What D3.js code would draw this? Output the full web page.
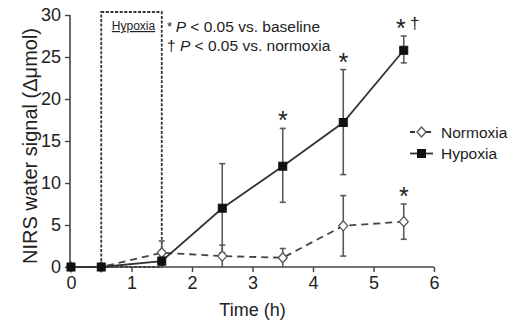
<!DOCTYPE html>
<html>
<head>
<meta charset="utf-8">
<script src="https://cdn.jsdelivr.net/npm/d3@7"></script>
<style>
  html, body { margin: 0; padding: 0; background: #fff; }
  svg { display: block; }
  text { font-family: "Liberation Sans", Arial, Helvetica, sans-serif; fill: #222; }
</style>
</head>
<body>
<svg id="chart" width="509" height="328"></svg>
<script>
// ---- data ----
const timePoints = [0, 0.5, 1.5, 2.5, 3.5, 4.5, 5.5];
const hypoxiaMean  = [0, 0, 0.7, 7.0, 12.0, 17.2, 25.8];
const hypoxiaUpper = [0, 0, 1.2, 12.3, 16.5, 23.5, 27.5];
const hypoxiaLower = [0, 0, 0.2, 1.7, 7.7, 11.0, 24.3];
const normoxiaMean  = [0, 0, 1.7, 1.3, 1.1, 4.9, 5.4];
const normoxiaUpper = [0, 0, 3.1, 2.6, 2.2, 8.5, 7.5];
const normoxiaLower = [0, 0, 0.4, 0, 0, 1.3, 3.3];
const xTicks = [0, 1, 2, 3, 4, 5, 6];
const yTicks = [0, 5, 10, 15, 20, 25, 30];
const hypoxiaPeriod = [0.5, 1.5];
// significance marks: series, time index, label
const sigMarks = [
  { series: "Hypoxia", idx: 4, label: "*" },
  { series: "Hypoxia", idx: 5, label: "*" },
  { series: "Hypoxia", idx: 6, label: "*", dagger: true },
  { series: "Normoxia", idx: 6, label: "*" }
];
const legendLabels = ["Normoxia", "Hypoxia"];

// ---- layout ----
const svg = d3.select("#chart");
const x = d3.scaleLinear().domain([0, 6]).range([71, 434]);
const y = d3.scaleLinear().domain([0, 30]).range([267, 15]);
const axisColor = "#444";

// hypoxia period box
svg.append("rect")
  .attr("x", x(hypoxiaPeriod[0]))
  .attr("y", y(30) - 3)
  .attr("width", x(hypoxiaPeriod[1]) - x(hypoxiaPeriod[0]))
  .attr("height", y(0) - y(30) + 3)
  .attr("fill", "none")
  .attr("stroke", "#333")
  .attr("stroke-width", 1.8)
  .attr("stroke-dasharray", "3,1.6");
const hx = (x(hypoxiaPeriod[0]) + x(hypoxiaPeriod[1])) / 2;
svg.append("text")
  .attr("x", hx + 2).attr("y", 30)
  .attr("text-anchor", "middle")
  .style("font-size", "12px")
  .style("text-decoration", "underline")
  .text("Hypoxia");

// axes
const xAxis = svg.append("g")
  .attr("transform", `translate(0,${y(0)})`)
  .call(d3.axisBottom(x).tickValues(xTicks).tickSize(5).tickPadding(4).tickFormat(d3.format("d")));
const yAxis = svg.append("g")
  .attr("transform", `translate(${x(0) - 1},0)`)
  .call(d3.axisLeft(y).tickValues(yTicks).tickSize(5).tickPadding(4).tickFormat(d3.format("d")));
[xAxis, yAxis].forEach(g => {
  g.select(".domain").attr("stroke", axisColor).attr("stroke-width", 1.6);
  g.selectAll(".tick line").attr("stroke", axisColor).attr("stroke-width", 1.4);
  g.selectAll(".tick text").style("font-size", "18px").attr("fill", "#222")
    .style("font-family", '"Liberation Sans", Arial, sans-serif');
});
xAxis.select(".domain").attr("d", `M${x(0) - 1},0H${x(6)}`);
yAxis.select(".domain").attr("d", `M0,${y(30)}V${y(0)}`);

// axis labels
svg.append("text")
  .attr("x", (x(0) + x(6)) / 2).attr("y", 316)
  .attr("text-anchor", "middle")
  .style("font-size", "18px")
  .text("Time (h)");
svg.append("text")
  .attr("transform", `translate(37,${146}) rotate(-90)`)
  .attr("text-anchor", "middle")
  .style("font-size", "20px")
  .text("NIRS water signal (\u0394\u03bcmol)");

// series
const series = [
  { name: "Normoxia", mean: normoxiaMean, up: normoxiaUpper, lo: normoxiaLower, dash: "7,5", marker: "diamond" },
  { name: "Hypoxia", mean: hypoxiaMean, up: hypoxiaUpper, lo: hypoxiaLower, dash: null, marker: "square" }
];
const lineGen = d3.line().x(d => x(d[0])).y(d => y(d[1]));
const errColor = "#5a5a5a";

series.forEach(s => {
  const pts = timePoints.map((t, i) => [t, s.mean[i], s.up[i], s.lo[i]]);
  // error bars
  const eb = svg.append("g");
  pts.forEach(p => {
    if (p[2] - p[3] <= 0) return;
    eb.append("line").attr("x1", x(p[0])).attr("x2", x(p[0]))
      .attr("y1", y(p[2])).attr("y2", y(p[3]))
      .attr("stroke", errColor).attr("stroke-width", 1.6);
    [p[2], p[3]].forEach(v => {
      if (v <= 0) return;
      eb.append("line").attr("x1", x(p[0]) - 3).attr("x2", x(p[0]) + 3)
        .attr("y1", y(v)).attr("y2", y(v))
        .attr("stroke", errColor).attr("stroke-width", 1.6);
    });
  });
  svg.append("path").datum(pts)
    .attr("d", lineGen)
    .attr("fill", "none")
    .attr("stroke", s.name === "Hypoxia" ? "#333" : "#444")
    .attr("stroke-width", 1.8)
    .attr("stroke-dasharray", s.dash);
  s.pts = pts;
});

function drawMarker(g, type, cx, cy) {
  if (type === "square") {
    g.append("rect").attr("x", cx - 4).attr("y", cy - 4).attr("width", 8).attr("height", 8)
      .attr("fill", "#111").attr("stroke", "#111");
  } else {
    g.append("path")
      .attr("d", `M${cx},${cy - 5}L${cx + 4.5},${cy}L${cx},${cy + 5}L${cx - 4.5},${cy}Z`)
      .attr("fill", "#fff").attr("stroke", "#555").attr("stroke-width", 1.3);
  }
}
const mg = svg.append("g");
series.forEach(s => {
  s.pts.forEach(p => drawMarker(mg, s.marker, x(p[0]), y(p[1])));
});

// significance marks
sigMarks.forEach(m => {
  const s = series.find(d => d.name === m.series);
  const t = timePoints[m.idx];
  const top = s.up[m.idx];
  svg.append("text")
    .attr("x", x(t) - (m.dagger ? 3 : 0)).attr("y", y(top) + 1)
    .attr("text-anchor", "middle")
    .style("font-size", "25px")
    .text(m.label);
  if (m.dagger) {
    svg.append("text")
      .attr("x", x(t) + 11).attr("y", y(top) - 7)
      .attr("text-anchor", "middle")
      .style("font-size", "17px")
      .text("\u2020");
  }
});

// significance legend text
const note = svg.append("g").style("font-size", "15.5px");
const n1 = note.append("text").attr("x", 167).attr("y", 32);
n1.append("tspan").style("font-size", "13px").attr("dy", "-1").text("* ");
n1.append("tspan").attr("dy", "1").style("font-style", "italic").text("P");
n1.append("tspan").text(" < 0.05 vs. baseline");
const n2 = note.append("text").attr("x", 167).attr("y", 51);
n2.append("tspan").text("\u2020 ");
n2.append("tspan").style("font-style", "italic").text("P");
n2.append("tspan").text(" < 0.05 vs. normoxia");

// legend
const lg = svg.append("g");
legendLabels.forEach((name, i) => {
  const s = series.find(d => d.name === name);
  const cy = 132 + i * 21.5;
  lg.append("line").attr("x1", 410).attr("x2", 433).attr("y1", cy).attr("y2", cy)
    .attr("stroke", "#333").attr("stroke-width", 1.8)
    .attr("stroke-dasharray", name === "Normoxia" ? "5,3" : null);
  drawMarker(lg, s.marker, 421.5, cy);
  lg.append("text").attr("x", 441).attr("y", cy + 5.5)
    .style("font-size", "15.5px").text(name);
});
</script>
</body>
</html>
